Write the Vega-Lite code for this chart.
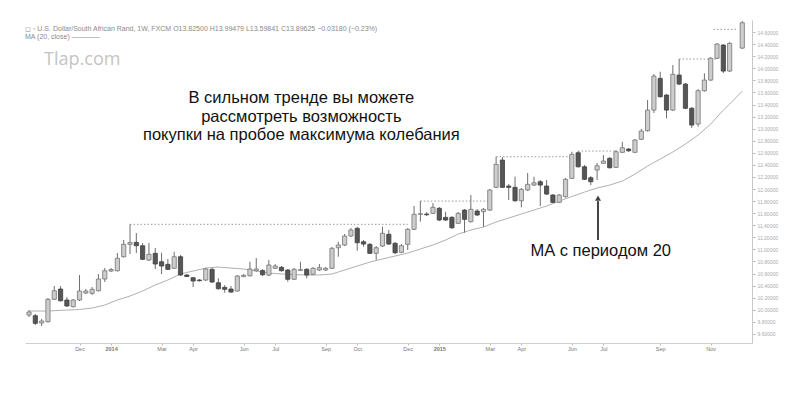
{
  "$schema": "https://vega.github.io/schema/vega-lite/v6.json",
  "width": 727,
  "height": 323,
  "autosize": {"type": "none"},
  "padding": {"left": 25, "top": 20, "right": 46, "bottom": 50},
  "background": "white",
  "config": {"view": {"stroke": null}, "font": "Liberation Sans"},
  "title": {
    "text": ["◻ ◦ U.S. Dollar/South African Rand, 1W, FXCM     O13.82500  H13.99479  L13.59841  C13.89625  −0.03180 (−0.23%)", "MA (20, close)  ————"],
    "anchor": "start",
    "frame": "group",
    "orient": "top",
    "offset": -27,
    "fontSize": 7,
    "fontWeight": "normal",
    "color": "#8a8a8a",
    "lineHeight": 8,
    "baseline": "bottom"
  },
  "datasets": {
    "candles": [
      {"date": "2013-10-07", "open": 9.914, "high": 9.996, "low": 9.880, "close": 9.963},
      {"date": "2013-10-14", "open": 9.902, "high": 9.930, "low": 9.748, "close": 9.776},
      {"date": "2013-10-21", "open": 9.781, "high": 9.847, "low": 9.731, "close": 9.814},
      {"date": "2013-10-28", "open": 9.803, "high": 10.195, "low": 9.789, "close": 10.174},
      {"date": "2013-11-04", "open": 10.174, "high": 10.394, "low": 10.162, "close": 10.316},
      {"date": "2013-11-11", "open": 10.344, "high": 10.394, "low": 10.137, "close": 10.150},
      {"date": "2013-11-18", "open": 10.162, "high": 10.212, "low": 10.046, "close": 10.063},
      {"date": "2013-11-25", "open": 10.051, "high": 10.178, "low": 10.038, "close": 10.162},
      {"date": "2013-12-02", "open": 10.162, "high": 10.576, "low": 10.145, "close": 10.311},
      {"date": "2013-12-09", "open": 10.278, "high": 10.344, "low": 10.261, "close": 10.311},
      {"date": "2013-12-16", "open": 10.273, "high": 10.377, "low": 10.245, "close": 10.339},
      {"date": "2013-12-23", "open": 10.316, "high": 10.593, "low": 10.303, "close": 10.510},
      {"date": "2013-12-30", "open": 10.510, "high": 10.692, "low": 10.460, "close": 10.647},
      {"date": "2014-01-06", "open": 10.642, "high": 10.692, "low": 10.626, "close": 10.667},
      {"date": "2014-01-13", "open": 10.647, "high": 10.940, "low": 10.634, "close": 10.853},
      {"date": "2014-01-20", "open": 10.879, "high": 11.156, "low": 10.866, "close": 11.084},
      {"date": "2014-01-27", "open": 11.084, "high": 11.416, "low": 10.924, "close": 11.114},
      {"date": "2014-02-03", "open": 11.117, "high": 11.271, "low": 10.940, "close": 11.061},
      {"date": "2014-02-10", "open": 11.061, "high": 11.106, "low": 10.824, "close": 10.836},
      {"date": "2014-02-17", "open": 10.824, "high": 11.106, "low": 10.808, "close": 10.919},
      {"date": "2014-02-24", "open": 10.935, "high": 11.023, "low": 10.675, "close": 10.758},
      {"date": "2014-03-03", "open": 10.796, "high": 10.945, "low": 10.593, "close": 10.725},
      {"date": "2014-03-10", "open": 10.753, "high": 10.841, "low": 10.659, "close": 10.670},
      {"date": "2014-03-17", "open": 10.687, "high": 10.962, "low": 10.675, "close": 10.879},
      {"date": "2014-03-24", "open": 10.879, "high": 10.907, "low": 10.559, "close": 10.576},
      {"date": "2014-03-31", "open": 10.576, "high": 10.593, "low": 10.543, "close": 10.551},
      {"date": "2014-04-07", "open": 10.531, "high": 10.543, "low": 10.377, "close": 10.477},
      {"date": "2014-04-14", "open": 10.493, "high": 10.510, "low": 10.468, "close": 10.482},
      {"date": "2014-04-21", "open": 10.493, "high": 10.692, "low": 10.477, "close": 10.675},
      {"date": "2014-04-28", "open": 10.670, "high": 10.692, "low": 10.443, "close": 10.460},
      {"date": "2014-05-05", "open": 10.448, "high": 10.521, "low": 10.336, "close": 10.349},
      {"date": "2014-05-12", "open": 10.372, "high": 10.410, "low": 10.283, "close": 10.339},
      {"date": "2014-05-19", "open": 10.344, "high": 10.394, "low": 10.278, "close": 10.294},
      {"date": "2014-05-26", "open": 10.311, "high": 10.576, "low": 10.303, "close": 10.559},
      {"date": "2014-06-02", "open": 10.548, "high": 10.593, "low": 10.543, "close": 10.571},
      {"date": "2014-06-09", "open": 10.564, "high": 10.796, "low": 10.551, "close": 10.675},
      {"date": "2014-06-16", "open": 10.647, "high": 10.857, "low": 10.634, "close": 10.675},
      {"date": "2014-06-23", "open": 10.650, "high": 10.675, "low": 10.559, "close": 10.581},
      {"date": "2014-06-30", "open": 10.576, "high": 10.824, "low": 10.559, "close": 10.742},
      {"date": "2014-07-07", "open": 10.687, "high": 10.758, "low": 10.675, "close": 10.725},
      {"date": "2014-07-14", "open": 10.703, "high": 10.725, "low": 10.634, "close": 10.647},
      {"date": "2014-07-21", "open": 10.659, "high": 10.675, "low": 10.465, "close": 10.505},
      {"date": "2014-07-28", "open": 10.505, "high": 10.692, "low": 10.493, "close": 10.670},
      {"date": "2014-08-04", "open": 10.654, "high": 10.796, "low": 10.642, "close": 10.664},
      {"date": "2014-08-11", "open": 10.670, "high": 10.692, "low": 10.521, "close": 10.576},
      {"date": "2014-08-18", "open": 10.588, "high": 10.708, "low": 10.576, "close": 10.687},
      {"date": "2014-08-25", "open": 10.659, "high": 10.758, "low": 10.642, "close": 10.697},
      {"date": "2014-09-01", "open": 10.659, "high": 10.708, "low": 10.642, "close": 10.687},
      {"date": "2014-09-08", "open": 10.687, "high": 11.040, "low": 10.675, "close": 11.018},
      {"date": "2014-09-15", "open": 11.028, "high": 11.127, "low": 10.879, "close": 11.073},
      {"date": "2014-09-22", "open": 11.073, "high": 11.255, "low": 11.056, "close": 11.222},
      {"date": "2014-09-29", "open": 11.222, "high": 11.354, "low": 11.205, "close": 11.321},
      {"date": "2014-10-06", "open": 11.349, "high": 11.376, "low": 10.978, "close": 11.111},
      {"date": "2014-10-13", "open": 11.127, "high": 11.156, "low": 11.045, "close": 11.089},
      {"date": "2014-10-20", "open": 11.084, "high": 11.106, "low": 10.924, "close": 10.935},
      {"date": "2014-10-27", "open": 10.935, "high": 11.056, "low": 10.824, "close": 11.028},
      {"date": "2014-11-03", "open": 11.056, "high": 11.376, "low": 11.040, "close": 11.267},
      {"date": "2014-11-10", "open": 11.250, "high": 11.321, "low": 11.073, "close": 11.089},
      {"date": "2014-11-17", "open": 11.101, "high": 11.122, "low": 10.924, "close": 10.945},
      {"date": "2014-11-24", "open": 10.952, "high": 11.089, "low": 10.940, "close": 11.061},
      {"date": "2014-12-01", "open": 11.084, "high": 11.354, "low": 10.990, "close": 11.333},
      {"date": "2014-12-08", "open": 11.333, "high": 11.719, "low": 11.321, "close": 11.581},
      {"date": "2014-12-15", "open": 11.581, "high": 11.801, "low": 11.459, "close": 11.591},
      {"date": "2014-12-22", "open": 11.586, "high": 11.619, "low": 11.553, "close": 11.575},
      {"date": "2014-12-29", "open": 11.598, "high": 11.768, "low": 11.586, "close": 11.697},
      {"date": "2015-01-05", "open": 11.681, "high": 11.702, "low": 11.470, "close": 11.487},
      {"date": "2015-01-12", "open": 11.531, "high": 11.624, "low": 11.470, "close": 11.487},
      {"date": "2015-01-19", "open": 11.531, "high": 11.553, "low": 11.338, "close": 11.359},
      {"date": "2015-01-26", "open": 11.432, "high": 11.619, "low": 11.421, "close": 11.598},
      {"date": "2015-02-02", "open": 11.652, "high": 11.669, "low": 11.276, "close": 11.498},
      {"date": "2015-02-09", "open": 11.459, "high": 11.901, "low": 11.445, "close": 11.664},
      {"date": "2015-02-16", "open": 11.636, "high": 11.669, "low": 11.553, "close": 11.570},
      {"date": "2015-02-23", "open": 11.624, "high": 11.685, "low": 11.376, "close": 11.664},
      {"date": "2015-03-02", "open": 11.652, "high": 12.000, "low": 11.636, "close": 11.984},
      {"date": "2015-03-09", "open": 12.028, "high": 12.535, "low": 12.017, "close": 12.409},
      {"date": "2015-03-16", "open": 12.480, "high": 12.530, "low": 12.017, "close": 12.028},
      {"date": "2015-03-23", "open": 12.050, "high": 12.083, "low": 11.818, "close": 12.028},
      {"date": "2015-03-30", "open": 12.028, "high": 12.204, "low": 11.790, "close": 11.806},
      {"date": "2015-04-06", "open": 11.806, "high": 12.017, "low": 11.697, "close": 11.995},
      {"date": "2015-04-13", "open": 11.984, "high": 12.265, "low": 11.967, "close": 12.078},
      {"date": "2015-04-20", "open": 12.066, "high": 12.204, "low": 12.050, "close": 12.104},
      {"date": "2015-04-27", "open": 12.121, "high": 12.149, "low": 11.719, "close": 12.066},
      {"date": "2015-05-04", "open": 12.050, "high": 12.149, "low": 11.901, "close": 11.917},
      {"date": "2015-05-11", "open": 11.901, "high": 11.917, "low": 11.768, "close": 11.780},
      {"date": "2015-05-18", "open": 11.780, "high": 11.917, "low": 11.768, "close": 11.901},
      {"date": "2015-05-25", "open": 11.873, "high": 12.182, "low": 11.859, "close": 12.161},
      {"date": "2015-06-01", "open": 12.177, "high": 12.618, "low": 12.166, "close": 12.575},
      {"date": "2015-06-08", "open": 12.601, "high": 12.629, "low": 12.356, "close": 12.369},
      {"date": "2015-06-15", "open": 12.369, "high": 12.398, "low": 12.149, "close": 12.161},
      {"date": "2015-06-22", "open": 12.187, "high": 12.215, "low": 12.066, "close": 12.121},
      {"date": "2015-06-29", "open": 12.315, "high": 12.431, "low": 12.149, "close": 12.386},
      {"date": "2015-07-06", "open": 12.426, "high": 12.563, "low": 12.414, "close": 12.464},
      {"date": "2015-07-13", "open": 12.509, "high": 12.530, "low": 12.340, "close": 12.353},
      {"date": "2015-07-20", "open": 12.359, "high": 12.646, "low": 12.348, "close": 12.618},
      {"date": "2015-07-27", "open": 12.608, "high": 12.783, "low": 12.596, "close": 12.684},
      {"date": "2015-08-03", "open": 12.663, "high": 12.679, "low": 12.613, "close": 12.634},
      {"date": "2015-08-10", "open": 12.608, "high": 12.828, "low": 12.596, "close": 12.812},
      {"date": "2015-08-17", "open": 12.823, "high": 12.994, "low": 12.812, "close": 12.961},
      {"date": "2015-08-24", "open": 12.966, "high": 13.474, "low": 12.952, "close": 13.308},
      {"date": "2015-08-31", "open": 13.308, "high": 13.905, "low": 13.259, "close": 13.871},
      {"date": "2015-09-07", "open": 13.833, "high": 13.943, "low": 13.515, "close": 13.529},
      {"date": "2015-09-14", "open": 13.557, "high": 13.573, "low": 13.171, "close": 13.308},
      {"date": "2015-09-21", "open": 13.308, "high": 14.054, "low": 13.292, "close": 13.900},
      {"date": "2015-09-28", "open": 13.888, "high": 14.153, "low": 13.722, "close": 13.739},
      {"date": "2015-10-05", "open": 13.739, "high": 13.755, "low": 13.325, "close": 13.337},
      {"date": "2015-10-12", "open": 13.337, "high": 13.358, "low": 13.010, "close": 13.060},
      {"date": "2015-10-19", "open": 13.077, "high": 13.656, "low": 13.032, "close": 13.628},
      {"date": "2015-10-26", "open": 13.628, "high": 13.916, "low": 13.615, "close": 13.805},
      {"date": "2015-11-02", "open": 13.805, "high": 14.186, "low": 13.789, "close": 14.165},
      {"date": "2015-11-09", "open": 14.165, "high": 14.418, "low": 14.153, "close": 14.401},
      {"date": "2015-11-16", "open": 14.385, "high": 14.401, "low": 13.921, "close": 13.954},
      {"date": "2015-11-23", "open": 13.954, "high": 14.434, "low": 13.938, "close": 14.413},
      {"date": "2015-12-07", "open": 14.335, "high": 14.782, "low": 14.319, "close": 14.754}
    ],
    "ma": [
      {"date": "2013-10-07", "ma": 9.980}, {"date": "2013-10-28", "ma": 9.980},
      {"date": "2013-11-18", "ma": 9.996}, {"date": "2013-12-02", "ma": 10.005},
      {"date": "2013-12-16", "ma": 10.029}, {"date": "2013-12-30", "ma": 10.079},
      {"date": "2014-01-13", "ma": 10.162}, {"date": "2014-01-27", "ma": 10.228},
      {"date": "2014-02-10", "ma": 10.311}, {"date": "2014-02-24", "ma": 10.410},
      {"date": "2014-03-10", "ma": 10.493}, {"date": "2014-03-24", "ma": 10.593},
      {"date": "2014-04-07", "ma": 10.642}, {"date": "2014-04-21", "ma": 10.692},
      {"date": "2014-05-05", "ma": 10.708}, {"date": "2014-05-19", "ma": 10.692},
      {"date": "2014-06-02", "ma": 10.675}, {"date": "2014-06-16", "ma": 10.642},
      {"date": "2014-06-30", "ma": 10.609}, {"date": "2014-07-14", "ma": 10.593},
      {"date": "2014-07-28", "ma": 10.584}, {"date": "2014-08-11", "ma": 10.576},
      {"date": "2014-08-25", "ma": 10.576}, {"date": "2014-09-08", "ma": 10.593},
      {"date": "2014-09-22", "ma": 10.659}, {"date": "2014-10-06", "ma": 10.725},
      {"date": "2014-10-20", "ma": 10.791}, {"date": "2014-11-03", "ma": 10.841},
      {"date": "2014-11-17", "ma": 10.891}, {"date": "2014-12-01", "ma": 10.940},
      {"date": "2014-12-15", "ma": 11.007}, {"date": "2014-12-29", "ma": 11.073},
      {"date": "2015-01-12", "ma": 11.156}, {"date": "2015-01-26", "ma": 11.255},
      {"date": "2015-02-09", "ma": 11.321}, {"date": "2015-02-23", "ma": 11.371},
      {"date": "2015-03-09", "ma": 11.454}, {"date": "2015-03-23", "ma": 11.520},
      {"date": "2015-04-06", "ma": 11.586}, {"date": "2015-04-20", "ma": 11.652},
      {"date": "2015-05-04", "ma": 11.719}, {"date": "2015-05-18", "ma": 11.801},
      {"date": "2015-06-01", "ma": 11.876}, {"date": "2015-06-15", "ma": 11.950},
      {"date": "2015-06-29", "ma": 12.017}, {"date": "2015-07-13", "ma": 12.066},
      {"date": "2015-07-27", "ma": 12.132}, {"date": "2015-08-10", "ma": 12.248},
      {"date": "2015-08-24", "ma": 12.381}, {"date": "2015-09-07", "ma": 12.497},
      {"date": "2015-09-21", "ma": 12.613}, {"date": "2015-10-05", "ma": 12.745},
      {"date": "2015-10-19", "ma": 12.894}, {"date": "2015-11-02", "ma": 13.077},
      {"date": "2015-11-16", "ma": 13.308}, {"date": "2015-11-23", "ma": 13.408},
      {"date": "2015-12-07", "ma": 13.623}
    ],
    "levels": [
      {"date": "2014-01-27", "end": "2014-12-01", "price": 11.416},
      {"date": "2014-12-15", "end": "2015-03-02", "price": 11.801},
      {"date": "2015-03-09", "end": "2015-06-01", "price": 12.535},
      {"date": "2015-06-08", "end": "2015-07-20", "price": 12.629},
      {"date": "2015-09-28", "end": "2015-11-09", "price": 14.153},
      {"date": "2015-11-05", "end": "2015-11-30", "price": 14.645}
    ],
    "arrow": [
      {"date": "2015-06-30", "from": 11.156, "to": 11.80, "tip": 11.85}
    ],
    "notes": [
      {"kind": "ann", "date": "2014-08-05", "price": 13.500, "text": "В сильном тренде вы можете"},
      {"kind": "ann", "date": "2014-08-05", "price": 13.193, "text": "рассмотреть возможность"},
      {"kind": "ann", "date": "2014-08-05", "price": 12.890, "text": "покупки на пробое максимума колебания"},
      {"kind": "ann", "date": "2015-07-03", "price": 10.973, "text": "МА с периодом 20"},
      {"kind": "logo", "date": "2013-12-05", "price": 14.136, "text": "Tlap.com"}
    ]
  },
  "encoding": {
    "x": {
      "field": "date",
      "type": "temporal",
      "scale": {"type": "utc", "domain": [{"year": 2013, "month": 10, "date": 8, "hours": 2, "utc": true}, {"year": 2015, "month": 12, "date": 12, "hours": 6, "utc": true}]},
      "axis": {
        "title": null,
        "grid": false,
        "values": [
          {"year": 2013, "month": 12, "date": 2, "utc": true},
          {"year": 2014, "month": 1, "date": 6, "utc": true},
          {"year": 2014, "month": 3, "date": 3, "utc": true},
          {"year": 2014, "month": 4, "date": 7, "utc": true},
          {"year": 2014, "month": 6, "date": 2, "utc": true},
          {"year": 2014, "month": 7, "date": 7, "utc": true},
          {"year": 2014, "month": 9, "date": 1, "utc": true},
          {"year": 2014, "month": 10, "date": 6, "utc": true},
          {"year": 2014, "month": 12, "date": 1, "utc": true},
          {"year": 2015, "month": 1, "date": 5, "utc": true},
          {"year": 2015, "month": 3, "date": 2, "utc": true},
          {"year": 2015, "month": 4, "date": 6, "utc": true},
          {"year": 2015, "month": 6, "date": 1, "utc": true},
          {"year": 2015, "month": 7, "date": 6, "utc": true},
          {"year": 2015, "month": 9, "date": 7, "utc": true},
          {"year": 2015, "month": 11, "date": 2, "utc": true}
        ],
        "labelExpr": "utcmonth(datum.value) == 0 ? utcFormat(datum.value, '%Y') : utcFormat(datum.value, '%b')",
        "labelFontSize": 5.5,
        "labelColor": "#777777",
        "labelFontWeight": {"condition": {"test": "utcmonth(datum.value) == 0", "value": "bold"}, "value": "normal"},
        "labelPadding": 1,
        "labelOverlap": false,
        "labelFlush": false,
        "tickSize": 2,
        "tickColor": "#bbbbbb",
        "domainColor": "#d0d0d0"
      }
    }
  },
  "layer": [
    {
      "data": {"name": "levels"},
      "mark": {"type": "rule", "strokeDash": [1.5, 2], "color": "#9a9a9a", "strokeWidth": 1},
      "encoding": {
        "x2": {"field": "end"},
        "y": {"field": "price", "type": "quantitative", "scale": {"domain": [9.45, 14.8], "zero": false, "nice": false},
          "axis": {"orient": "right", "title": null, "grid": false, "values": [9.6, 9.8, 10, 10.2, 10.4, 10.6, 10.8, 11, 11.2, 11.4, 11.6, 11.8, 12, 12.2, 12.4, 12.6, 12.8, 13, 13.2, 13.4, 13.6, 13.8, 14, 14.2, 14.4, 14.6], "format": ".5f", "labelFontSize": 5, "labelColor": "#aaaaaa", "labelPadding": 2, "labelOverlap": false, "tickSize": 3, "tickColor": "#bbbbbb", "domainColor": "#c8c8c8"}}
      }
    },
    {
      "data": {"name": "ma"},
      "mark": {"type": "line", "color": "#b0b0b0", "strokeWidth": 1},
      "encoding": {
        "y": {"field": "ma", "type": "quantitative", "scale": {"domain": [9.45, 14.8], "zero": false, "nice": false},
          "axis": {"orient": "right", "title": null, "grid": false, "values": [9.6, 9.8, 10, 10.2, 10.4, 10.6, 10.8, 11, 11.2, 11.4, 11.6, 11.8, 12, 12.2, 12.4, 12.6, 12.8, 13, 13.2, 13.4, 13.6, 13.8, 14, 14.2, 14.4, 14.6], "format": ".5f", "labelFontSize": 5, "labelColor": "#aaaaaa", "labelPadding": 2, "labelOverlap": false, "tickSize": 3, "tickColor": "#bbbbbb", "domainColor": "#c8c8c8"}}
      }
    },
    {
      "data": {"name": "candles"},
      "mark": {"type": "rule", "color": "#6e6e6e", "strokeWidth": 1},
      "encoding": {
        "y": {"field": "low", "type": "quantitative", "scale": {"domain": [9.45, 14.8], "zero": false, "nice": false},
          "axis": {"orient": "right", "title": null, "grid": false, "values": [9.6, 9.8, 10, 10.2, 10.4, 10.6, 10.8, 11, 11.2, 11.4, 11.6, 11.8, 12, 12.2, 12.4, 12.6, 12.8, 13, 13.2, 13.4, 13.6, 13.8, 14, 14.2, 14.4, 14.6], "format": ".5f", "labelFontSize": 5, "labelColor": "#aaaaaa", "labelPadding": 2, "labelOverlap": false, "tickSize": 3, "tickColor": "#bbbbbb", "domainColor": "#c8c8c8"}},
        "y2": {"field": "high"}
      }
    },
    {
      "data": {"name": "candles"},
      "mark": {"type": "bar", "size": 4.2, "strokeWidth": 0.8},
      "encoding": {
        "y": {"field": "open", "type": "quantitative", "scale": {"domain": [9.45, 14.8], "zero": false, "nice": false},
          "axis": {"orient": "right", "title": null, "grid": false, "values": [9.6, 9.8, 10, 10.2, 10.4, 10.6, 10.8, 11, 11.2, 11.4, 11.6, 11.8, 12, 12.2, 12.4, 12.6, 12.8, 13, 13.2, 13.4, 13.6, 13.8, 14, 14.2, 14.4, 14.6], "format": ".5f", "labelFontSize": 5, "labelColor": "#aaaaaa", "labelPadding": 2, "labelOverlap": false, "tickSize": 3, "tickColor": "#bbbbbb", "domainColor": "#c8c8c8"}},
        "y2": {"field": "close"},
        "fill": {"condition": {"test": "datum.close >= datum.open", "value": "#cdcdcd"}, "value": "#565656"},
        "stroke": {"condition": {"test": "datum.close >= datum.open", "value": "#757575"}, "value": "#3f3f3f"}
      }
    },
    {
      "data": {"name": "arrow"},
      "mark": {"type": "rule", "color": "#444444", "strokeWidth": 2},
      "encoding": {
        "y": {"field": "from", "type": "quantitative", "scale": {"domain": [9.45, 14.8], "zero": false, "nice": false},
          "axis": {"orient": "right", "title": null, "grid": false, "values": [9.6, 9.8, 10, 10.2, 10.4, 10.6, 10.8, 11, 11.2, 11.4, 11.6, 11.8, 12, 12.2, 12.4, 12.6, 12.8, 13, 13.2, 13.4, 13.6, 13.8, 14, 14.2, 14.4, 14.6], "format": ".5f", "labelFontSize": 5, "labelColor": "#aaaaaa", "labelPadding": 2, "labelOverlap": false, "tickSize": 3, "tickColor": "#bbbbbb", "domainColor": "#c8c8c8"}},
        "y2": {"field": "to"}
      }
    },
    {
      "data": {"name": "arrow"},
      "mark": {"type": "point", "shape": "triangle-up", "filled": true, "size": 36, "color": "#444444", "opacity": 1},
      "encoding": {
        "y": {"field": "tip", "type": "quantitative", "scale": {"domain": [9.45, 14.8], "zero": false, "nice": false},
          "axis": {"orient": "right", "title": null, "grid": false, "values": [9.6, 9.8, 10, 10.2, 10.4, 10.6, 10.8, 11, 11.2, 11.4, 11.6, 11.8, 12, 12.2, 12.4, 12.6, 12.8, 13, 13.2, 13.4, 13.6, 13.8, 14, 14.2, 14.4, 14.6], "format": ".5f", "labelFontSize": 5, "labelColor": "#aaaaaa", "labelPadding": 2, "labelOverlap": false, "tickSize": 3, "tickColor": "#bbbbbb", "domainColor": "#c8c8c8"}}
      }
    },
    {
      "data": {"name": "notes"},
      "transform": [{"filter": "datum.kind == 'ann'"}],
      "mark": {"type": "text", "fontSize": 16.5, "color": "#111111", "align": "center", "baseline": "middle", "font": "Liberation Sans"},
      "encoding": {
        "y": {"field": "price", "type": "quantitative", "scale": {"domain": [9.45, 14.8], "zero": false, "nice": false},
          "axis": {"orient": "right", "title": null, "grid": false, "values": [9.6, 9.8, 10, 10.2, 10.4, 10.6, 10.8, 11, 11.2, 11.4, 11.6, 11.8, 12, 12.2, 12.4, 12.6, 12.8, 13, 13.2, 13.4, 13.6, 13.8, 14, 14.2, 14.4, 14.6], "format": ".5f", "labelFontSize": 5, "labelColor": "#aaaaaa", "labelPadding": 2, "labelOverlap": false, "tickSize": 3, "tickColor": "#bbbbbb", "domainColor": "#c8c8c8"}},
        "text": {"field": "text"}
      }
    },
    {
      "data": {"name": "notes"},
      "transform": [{"filter": "datum.kind == 'logo'"}],
      "mark": {"type": "text", "fontSize": 18, "fontWeight": "normal", "color": "#c4c4c4", "align": "center", "baseline": "middle", "font": "Open Sans"},
      "encoding": {
        "y": {"field": "price", "type": "quantitative", "scale": {"domain": [9.45, 14.8], "zero": false, "nice": false},
          "axis": {"orient": "right", "title": null, "grid": false, "values": [9.6, 9.8, 10, 10.2, 10.4, 10.6, 10.8, 11, 11.2, 11.4, 11.6, 11.8, 12, 12.2, 12.4, 12.6, 12.8, 13, 13.2, 13.4, 13.6, 13.8, 14, 14.2, 14.4, 14.6], "format": ".5f", "labelFontSize": 5, "labelColor": "#aaaaaa", "labelPadding": 2, "labelOverlap": false, "tickSize": 3, "tickColor": "#bbbbbb", "domainColor": "#c8c8c8"}},
        "text": {"field": "text"}
      }
    }
  ]
}
